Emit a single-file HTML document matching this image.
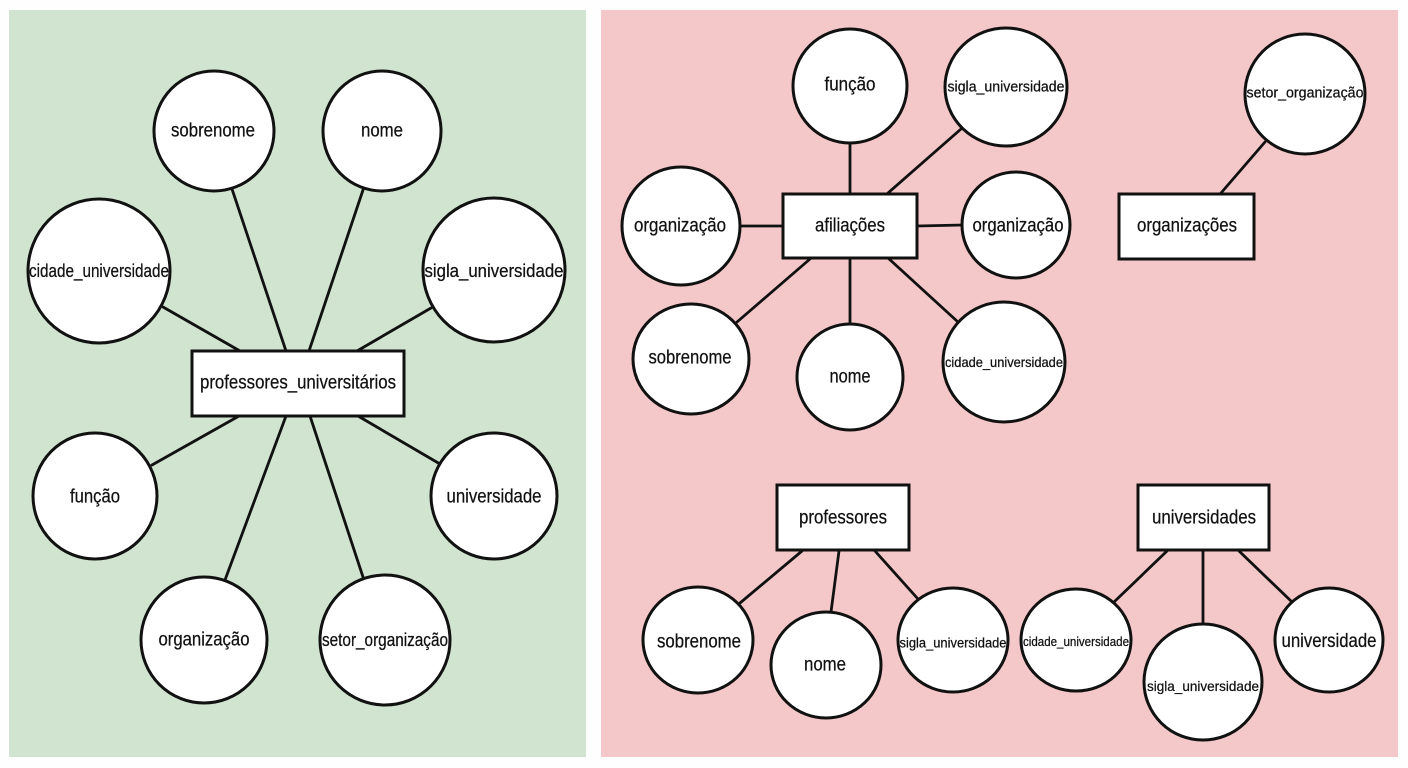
<!DOCTYPE html>
<html>
<head>
<meta charset="utf-8">
<style>
  html, body { margin:0; padding:0; background:#fefefe; }
  svg { display:block; }
  text { font-family: "Liberation Sans", Arial, sans-serif; fill:#111; stroke:#111; stroke-width:0.25; }
</style>
</head>
<body>
<svg width="1408" height="768" viewBox="0 0 1408 768" xmlns="http://www.w3.org/2000/svg">
  <rect x="0" y="0" width="1408" height="768" fill="#fefefe"/>
  <rect x="9" y="10" width="577" height="747" fill="#d0e4cf"/>
  <rect x="601" y="10" width="797" height="747" fill="#f4c8c8"/>

  <g stroke="#111" stroke-width="2.8" fill="none" stroke-linecap="round">
    <!-- left diagram lines -->
    <line x1="163" y1="307" x2="240" y2="351"/>
    <line x1="232" y1="189" x2="286" y2="351"/>
    <line x1="363" y1="190" x2="309" y2="351"/>
    <line x1="431" y1="308" x2="357" y2="351"/>
    <line x1="239" y1="416" x2="152" y2="465"/>
    <line x1="286" y1="416" x2="225" y2="580"/>
    <line x1="310" y1="416" x2="363" y2="577"/>
    <line x1="358" y1="416" x2="440" y2="464"/>

    <!-- afiliações lines -->
    <line x1="850" y1="143" x2="850" y2="193"/>
    <line x1="961" y1="129" x2="888" y2="193"/>
    <line x1="740" y1="226" x2="783" y2="226"/>
    <line x1="917" y1="226" x2="963" y2="225"/>
    <line x1="810" y1="259" x2="737" y2="322"/>
    <line x1="850" y1="258" x2="850" y2="325"/>
    <line x1="888" y1="258" x2="958" y2="322"/>

    <!-- organizações -->
    <line x1="1265" y1="142" x2="1221" y2="193"/>

    <!-- professores -->
    <line x1="802" y1="551" x2="740" y2="603"/>
    <line x1="839" y1="551" x2="831" y2="612"/>
    <line x1="875" y1="551" x2="918" y2="599"/>

    <!-- universidades -->
    <line x1="1167" y1="551" x2="1114" y2="602"/>
    <line x1="1203" y1="551" x2="1203" y2="624"/>
    <line x1="1239" y1="551" x2="1291" y2="601"/>
  </g>

  <g stroke="#111" stroke-width="3" fill="#fff">
    <!-- left -->
    <ellipse cx="214" cy="131" rx="60" ry="60"/>
    <ellipse cx="382" cy="131" rx="59" ry="60"/>
    <ellipse cx="99" cy="271" rx="71" ry="72"/>
    <ellipse cx="494" cy="270" rx="71" ry="72"/>
    <rect x="192" y="351" width="212" height="65"/>
    <ellipse cx="95" cy="496" rx="62" ry="63"/>
    <ellipse cx="494" cy="496" rx="63" ry="63"/>
    <ellipse cx="204" cy="640" rx="63" ry="63"/>
    <ellipse cx="385" cy="640" rx="65" ry="65"/>

    <!-- afiliações -->
    <ellipse cx="850" cy="86" rx="57" ry="57"/>
    <ellipse cx="1006" cy="87" rx="61" ry="59"/>
    <ellipse cx="681" cy="226" rx="59" ry="59"/>
    <rect x="783" y="194" width="134" height="64"/>
    <ellipse cx="1016" cy="225" rx="54" ry="53"/>
    <ellipse cx="691" cy="359" rx="58" ry="55"/>
    <ellipse cx="850" cy="377" rx="53" ry="53"/>
    <ellipse cx="1004" cy="362" rx="61" ry="60"/>

    <!-- organizações -->
    <ellipse cx="1305" cy="94" rx="60" ry="60"/>
    <rect x="1119" y="194" width="135" height="65"/>

    <!-- professores -->
    <rect x="777" y="485" width="132" height="65"/>
    <ellipse cx="698" cy="640" rx="55" ry="53"/>
    <ellipse cx="826" cy="665" rx="55" ry="53"/>
    <ellipse cx="953" cy="640" rx="55" ry="52"/>

    <!-- universidades -->
    <rect x="1138" y="485" width="131" height="65"/>
    <ellipse cx="1076" cy="640" rx="55" ry="51"/>
    <ellipse cx="1203" cy="682" rx="59" ry="58"/>
    <ellipse cx="1329" cy="640" rx="54" ry="52"/>
  </g>

  <g text-anchor="middle" dominant-baseline="central">
    <!-- left -->
    <text x="213" y="131" font-size="19" textLength="84" lengthAdjust="spacingAndGlyphs">sobrenome</text>
    <text x="382" y="131" font-size="19" textLength="42" lengthAdjust="spacingAndGlyphs">nome</text>
    <text x="99" y="271" font-size="18" textLength="140" lengthAdjust="spacingAndGlyphs">cidade_universidade</text>
    <text x="494" y="271" font-size="18" textLength="139" lengthAdjust="spacingAndGlyphs">sigla_universidade</text>
    <text x="298" y="383" font-size="19" textLength="196" lengthAdjust="spacingAndGlyphs">professores_universitários</text>
    <text x="95" y="497" font-size="19" textLength="50" lengthAdjust="spacingAndGlyphs">função</text>
    <text x="494" y="497" font-size="19" textLength="95" lengthAdjust="spacingAndGlyphs">universidade</text>
    <text x="204" y="640" font-size="19" textLength="91" lengthAdjust="spacingAndGlyphs">organização</text>
    <text x="385" y="640" font-size="18" textLength="126" lengthAdjust="spacingAndGlyphs">setor_organização</text>

    <!-- afiliações -->
    <text x="850" y="85" font-size="19" textLength="51" lengthAdjust="spacingAndGlyphs">função</text>
    <text x="1006" y="87" font-size="15" textLength="117" lengthAdjust="spacingAndGlyphs">sigla_universidade</text>
    <text x="680" y="226" font-size="19" textLength="92" lengthAdjust="spacingAndGlyphs">organização</text>
    <text x="850" y="226" font-size="19" textLength="70" lengthAdjust="spacingAndGlyphs">afiliações</text>
    <text x="1018" y="226" font-size="19" textLength="91" lengthAdjust="spacingAndGlyphs">organização</text>
    <text x="690" y="358" font-size="19" textLength="83" lengthAdjust="spacingAndGlyphs">sobrenome</text>
    <text x="850" y="377" font-size="19" textLength="41" lengthAdjust="spacingAndGlyphs">nome</text>
    <text x="1004" y="362" font-size="14" textLength="118" lengthAdjust="spacingAndGlyphs">cidade_universidade</text>

    <!-- organizações -->
    <text x="1305" y="93" font-size="15" textLength="117" lengthAdjust="spacingAndGlyphs">setor_organização</text>
    <text x="1187" y="226" font-size="19" textLength="100" lengthAdjust="spacingAndGlyphs">organizações</text>

    <!-- professores -->
    <text x="843" y="518" font-size="19" textLength="88" lengthAdjust="spacingAndGlyphs">professores</text>
    <text x="699" y="642" font-size="19" textLength="84" lengthAdjust="spacingAndGlyphs">sobrenome</text>
    <text x="825" y="665" font-size="19" textLength="42" lengthAdjust="spacingAndGlyphs">nome</text>
    <text x="953" y="643" font-size="13.5" textLength="107" lengthAdjust="spacingAndGlyphs">sigla_universidade</text>

    <!-- universidades -->
    <text x="1204" y="518" font-size="19" textLength="104" lengthAdjust="spacingAndGlyphs">universidades</text>
    <text x="1076" y="642" font-size="12.5" textLength="106" lengthAdjust="spacingAndGlyphs">cidade_universidade</text>
    <text x="1203" y="686" font-size="14" textLength="112" lengthAdjust="spacingAndGlyphs">sigla_universidade</text>
    <text x="1329" y="641" font-size="19.5" textLength="95" lengthAdjust="spacingAndGlyphs">universidade</text>
  </g>
</svg>
</body>
</html>
